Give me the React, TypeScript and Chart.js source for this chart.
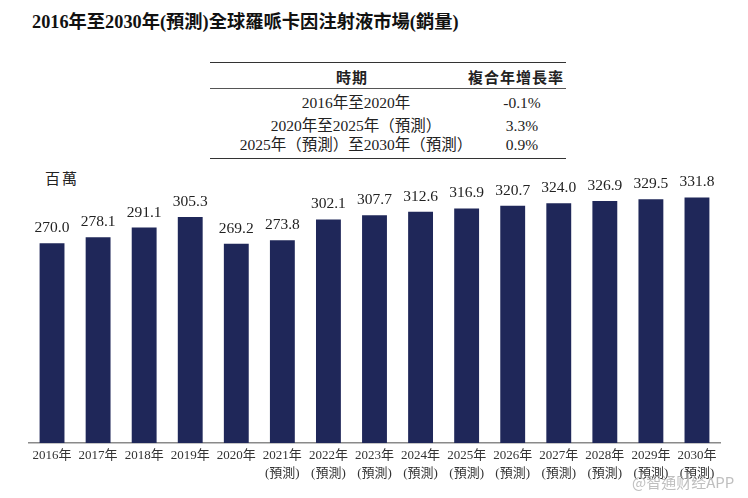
import React, { useEffect, useRef } from "react";
import { Chart, registerables } from "chart.js";

Chart.register(...registerables);

const categories: (string | string[])[] = [
  "2016年",
  "2017年",
  "2018年",
  "2019年",
  "2020年",
  ["2021年", "(預測)"],
  ["2022年", "(預測)"],
  ["2023年", "(預測)"],
  ["2024年", "(預測)"],
  ["2025年", "(預測)"],
  ["2026年", "(預測)"],
  ["2027年", "(預測)"],
  ["2028年", "(預測)"],
  ["2029年", "(預測)"],
  ["2030年", "(預測)"],
];

const salesVolume = [
  270.0, 278.1, 291.1, 305.3, 269.2, 273.8, 302.1, 307.7, 312.6, 316.9, 320.7,
  324.0, 326.9, 329.5, 331.8,
];

const cagrPeriods = ["2016年至2020年", "2020年至2025年（預測）", "2025年（預測）至2030年（預測）"];
const cagrValues = ["-0.1%", "3.3%", "0.9%"];

const titleText = "2016年至2030年(預測)全球羅哌卡因注射液市場(銷量)";
const unitText = "百萬";

const SERIF = "'Liberation Serif', 'Times New Roman', 'Noto Sans CJK TC', serif";
const SANS = "'Noto Sans CJK TC', 'Noto Sans', sans-serif";

const valueLabelPlugin = {
  id: "valueLabels",
  afterDatasetsDraw(chart: any) {
    const ctx = chart.ctx;
    const meta = chart.getDatasetMeta(0);
    const data = chart.data.datasets[0].data as number[];
    ctx.save();
    ctx.font = `15.5px ${SERIF}`;
    ctx.fillStyle = "#222";
    ctx.textAlign = "center";
    ctx.textBaseline = "alphabetic";
    meta.data.forEach((bar: any, i: number) => {
      ctx.fillText(data[i].toFixed(1), bar.x, bar.y - 11);
    });
    ctx.restore();
  },
};

export default function App() {
  const canvasRef = useRef<HTMLCanvasElement | null>(null);

  useEffect(() => {
    if (!canvasRef.current) return;
    const chart = new Chart(canvasRef.current, {
      type: "bar",
      data: {
        labels: categories,
        datasets: [
          {
            data: salesVolume,
            backgroundColor: "#1f2759",
            barPercentage: 0.9,
            categoryPercentage: 0.6,
          },
        ],
      },
      options: {
        animation: false,
        responsive: false,
        maintainAspectRatio: false,
        layout: { padding: { left: 29, right: 28, top: 147, bottom: 12 } },
        plugins: {
          legend: { display: false },
          tooltip: { enabled: false },
          title: { display: false },
        },
        scales: {
          x: {
            grid: { display: false, drawTicks: false },
            border: { display: true, color: "#8a8a8a", width: 1.5 },
            ticks: {
              autoSkip: false,
              maxRotation: 0,
              minRotation: 0,
              padding: 4,
              color: "#333",
              font: { family: SERIF, size: 13, lineHeight: 1.35 },
            },
          },
          y: {
            display: false,
            min: 0,
            max: 400,
          },
        },
      },
      plugins: [valueLabelPlugin],
    });
    return () => chart.destroy();
  }, []);

  return (
    <div style={{ position: "fixed", left: 0, top: 0, width: 748, height: 498, background: "#fff", overflow: "hidden" }}>
      <div
        style={{
          position: "absolute",
          left: 32,
          top: 9,
          fontFamily: SERIF,
          fontWeight: "bold",
          fontSize: 18.3,
          lineHeight: "26px",
          color: "#111",
          whiteSpace: "nowrap",
        }}
      >
        {titleText}
      </div>

      <div style={{ position: "absolute", left: 210, top: 62, width: 356, borderTop: "1.5px solid #333" }} />
      <div style={{ position: "absolute", left: 210, top: 88, width: 356, borderTop: "1px solid #555" }} />
      <div style={{ position: "absolute", left: 210, top: 158, width: 356, borderTop: "1.5px solid #333" }} />

      <div
        style={{
          position: "absolute",
          left: 302,
          width: 100,
          top: 66,
          textAlign: "center",
          fontFamily: SANS,
          fontWeight: "bold",
          fontSize: 15,
          letterSpacing: 1,
          lineHeight: "22px",
          color: "#222",
        }}
      >
        時期
      </div>
      <div
        style={{
          position: "absolute",
          left: 440,
          width: 124,
          top: 66,
          textAlign: "right",
          fontFamily: SANS,
          fontWeight: "bold",
          fontSize: 15,
          letterSpacing: 1,
          lineHeight: "22px",
          color: "#222",
        }}
      >
        複合年增長率
      </div>

      {cagrPeriods.map((p, i) => (
        <React.Fragment key={p}>
          <div
            style={{
              position: "absolute",
              left: 216,
              width: 280,
              top: [92, 115, 134][i],
              textAlign: "center",
              fontFamily: SERIF,
              fontSize: 15.5,
              lineHeight: "22px",
              color: "#222",
              whiteSpace: "nowrap",
            }}
          >
            {p}
          </div>
          <div
            style={{
              position: "absolute",
              left: 482,
              width: 80,
              top: [92, 115, 134][i],
              textAlign: "center",
              fontFamily: SERIF,
              fontSize: 15.5,
              lineHeight: "22px",
              color: "#222",
            }}
          >
            {cagrValues[i]}
          </div>
        </React.Fragment>
      ))}

      <div
        style={{
          position: "absolute",
          left: 45,
          top: 169,
          fontFamily: SERIF,
          fontSize: 15,
          letterSpacing: 2,
          lineHeight: "20px",
          color: "#222",
        }}
      >
        {unitText}
      </div>

      <canvas
        ref={canvasRef}
        width={748}
        height={498}
        style={{ position: "absolute", left: 0, top: 0, width: 748, height: 498 }}
      />

      <div
        style={{
          position: "absolute",
          left: 632,
          top: 472,
          fontFamily: SANS,
          fontSize: 15,
          lineHeight: "20px",
          color: "rgba(170,170,170,0.75)",
          whiteSpace: "nowrap",
        }}
      >
        @智通财经APP
      </div>
    </div>
  );
}
